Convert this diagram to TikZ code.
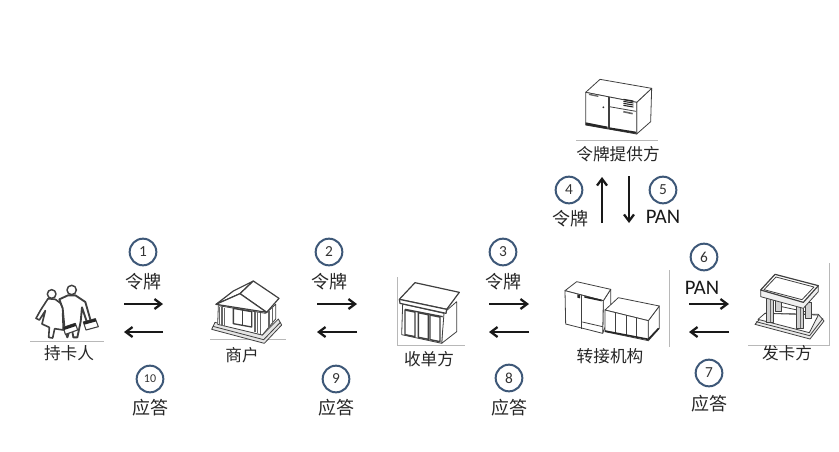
\documentclass[tikz,border=0pt]{standalone}
\usepackage{fontspec}
\setmainfont{Carlito}
\newfontfamily\cjk{Noto Sans CJK SC}
\usetikzlibrary{arrows.meta}
\definecolor{numblue}{RGB}{62,88,120}
\tikzset{
 zoomed/.style={shift={(#1)},x=0.25pt,y=-0.25pt},
 numc/.style={circle,draw=numblue,line width=1.5pt,minimum size=20pt,inner sep=0pt,font=\fontsize{11.5pt}{13pt}\selectfont,text=black!80},
 lbl/.style={inner sep=0pt,font=\cjk\fontsize{13.5pt}{15pt}\selectfont,text=black!85},
 actorname/.style={inner sep=0pt,font=\cjk\fontsize{12.5pt}{14pt}\selectfont,text=black!85},
 panlbl/.style={inner sep=0pt,font=\fontsize{15.5pt}{17pt}\selectfont,text=black!90},
 flow/.style={-{Straight Barb[length=5pt,width=7.5pt]},line width=1.7pt,black!90},
 hair/.style={line width=0.5pt,black!28},
 ic/.style={draw=black!75,line width=0.6pt,line join=round,fill=white},
 icl/.style={draw=black!75,line width=0.6pt,line join=round},
 darkf/.style={fill=black!85,draw=none},
}
\begin{document}
\begin{tikzpicture}[x=0.75pt,y=-0.75pt]
\useasboundingbox[fill=white] (0,0) rectangle (839,451);
% hairlines
\coordinate (h1a) at (30,341); \coordinate (h1b) at (104,341); \draw[hair] (h1a)--(h1b);
\coordinate (h2a) at (210,339); \coordinate (h2b) at (286,339); \draw[hair] (h2a)--(h2b);
\coordinate (h3a) at (397,277); \coordinate (h3b) at (397,345); \coordinate (h3c) at (465,345); \draw[hair] (h3a)--(h3b)--(h3c);
\coordinate (h4a) at (669,270); \coordinate (h4b) at (669,347); \draw[hair] (h4a)--(h4b);
\coordinate (h5a) at (829,263); \coordinate (h5b) at (829,345); \coordinate (h5c) at (748,345); \draw[hair] (h5a)--(h5b)--(h5c);
\coordinate (h6a) at (576,140); \coordinate (h6b) at (658,140); \draw[hair] (h6a)--(h6b);

% cardholders
\begin{scope}[zoomed={30,280}]
 \draw[ic,line width=1.1pt] (65,42) circle [radius=13];
 \draw[ic,line width=1.2pt] (54,56)--(32,90)--(18,115)--(28,120)--(46,92)--(36,132)--(58,142)--(56,172)--(68,174)--(74,146)--(100,150)--(98,100)--(115,135)--(122,130)--(92,70)--(76,58)--cycle;
 \draw[ic,line width=1.1pt] (125,30) circle [radius=14];
 \draw[ic,line width=1.4pt] (88,58)--(114,46)--(136,46)--(166,66)--(182,122)--(170,124)--(156,82)--(152,125)--(142,172)--(130,172)--(124,135)--(112,172)--(104,150)--(98,85)--cycle;
 \draw[ic,line width=0.8pt] (100,142)--(136,130)--(143,150)--(106,163)--cycle;
 \path[darkf] (100,142)--(136,130)--(138,138)--(102,150)--cycle;
 \draw[ic,line width=0.8pt] (160,126)--(196,116)--(205,140)--(168,150)--cycle;
 \path[darkf] (160,126)--(196,116)--(199,124)--(163,134)--cycle;
\end{scope}

% merchant
\begin{scope}[zoomed={205,275}]
 \draw[ic,fill=black!10] (20,163)--(178,205)--(230,150)--(220,132)--(172,180)--(30,142)--cycle;
 \draw[icl] (24,154)--(176,194)--(226,142);
 \draw[ic] (40,92)--(182,115)--(212,88)--(212,132)--(172,180)--(38,148)--cycle;
 \foreach \xa/\ya/\yb in {43/96/150,51/97/152,59/99/154,150/110/172,158/112/174,166/113/176,192/108/158,202/98/146}
  \draw[black!60,line width=1.1pt] (\xa,\ya)--(\xa,\yb);
 \draw[ic,line width=1pt] (85,100)--(140,110)--(140,156)--(85,146)--cycle;
 \draw[icl,line width=1pt] (112,105)--(112,151);
 \draw[ic,line width=0.9pt] (33,88)--(85,48)--(145,18)--(105,56)--cycle;
 \draw[ic,line width=0.9pt] (145,18)--(222,70)--(185,112)--(105,56)--cycle;
 \draw[ic,line width=0.9pt] (33,88)--(105,56)--(185,112)--cycle;
\end{scope}

% acquirer
\begin{scope}[zoomed={300,230}]
 \draw[ic] (430,250)--(470,215)--(470,305)--(425,340)--cycle;
 \draw[ic] (308,222)--(432,250)--(425,340)--(305,314)--cycle;
 \draw[ic,line width=0.9pt] (298,208)--(345,158)--(478,187)--(440,238)--cycle;
 \draw[ic,line width=0.9pt] (298,208)--(440,238)--(438,250)--(300,220)--cycle;
 \draw[icl,line width=1pt] (315,238)--(428,260);
 \foreach \a/\b in {315/345,355/385,390/420}{
  \pgfmathsetmacro{\ta}{240+(\a-315)*0.2}\pgfmathsetmacro{\tb}{240+(\b-315)*0.2}
  \draw[ic,line width=1.1pt] (\a,\ta)--(\b,\tb)--(\b,\tb+74)--(\a,\ta+74)--cycle;}
\end{scope}

% switch
\begin{scope}[zoomed={550,230}]
 \draw[ic] (160,212)--(182,178)--(182,250)--(158,310)--cycle;
 \draw[ic] (45,182)--(80,155)--(182,178)--(160,212)--cycle;
 \draw[ic] (45,182)--(160,212)--(158,310)--(47,282)--cycle;
 \draw[icl] (95,195)--(95,296);
 \draw[icl] (97,276)--(158,290);
 \path[darkf] (103,198)--(155,209)--(155,214)--(103,203)--cycle;
 \path[darkf] (82,193)--(90,195)--(90,205)--(82,203)--cycle;
 \draw[ic] (295,272)--(328,228)--(328,295)--(295,332)--cycle;
 \draw[ic] (165,240)--(205,203)--(328,228)--(295,272)--cycle;
 \draw[ic] (165,240)--(295,272)--(295,332)--(165,305)--cycle;
 \foreach \a in {197,228,260}{\pgfmathsetmacro{\t}{240+(\a-165)*0.246}
  \draw[icl] (\a,\t)--(\a,\t+60);}
 \draw[black!85,line width=1.2pt] (165,303)--(295,328);
 \draw[black!85,line width=1.2pt] (295,328)--(326,295);
\end{scope}

% issuer
\begin{scope}[zoomed={750,265}]
 \draw[ic,fill=black!8] (15,178)--(180,222)--(222,168)--(205,148)--(45,145)--cycle;
 \draw[icl] (18,170)--(179,212)--(219,160);
 \draw[ic] (24,163)--(45,145)--(205,150)--(178,203)--cycle;
 \foreach \xa/\ya/\yb in {85/105/140,175/112/160}{
  \draw[ic,fill=black!18] (\xa-10,\ya) rectangle (\xa+10,\yb);}
 \draw[icl] (95,125)--(165,140);
 \foreach \xa/\ya/\yb in {60/100/172,150/122/190}{
  \draw[ic,fill=black!18] (\xa-10,\ya) rectangle (\xa+10,\yb);
  \draw[black!60] (\xa,\ya)--(\xa,\yb);}
 \draw[ic,fill=black!6] (32,75)--(32,95)--(160,130)--(205,80)--(205,62)--cycle;
 \draw[ic,line width=0.9pt] (32,75)--(75,28)--(205,62)--(160,112)--cycle;
 \draw[icl] (42,74)--(78,36)--(192,66)--(156,104)--cycle;
\end{scope}

% provider
\begin{scope}[zoomed={540,70}]
 \draw[ic] (290,97)--(335,55)--(332,155)--(290,192)--cycle;
 \draw[ic] (137,67)--(180,28)--(335,55)--(290,97)--cycle;
 \draw[ic] (137,67)--(290,97)--(290,192)--(137,165)--cycle;
 \draw[icl] (204,80)--(204,178);
 \draw[icl] (207,81)--(207,178);
 \path[darkf] (137,157)--(203,170)--(203,177)--(137,165)--cycle;
 \path[darkf] (208,172)--(288,185)--(288,191)--(208,178)--cycle;
 \draw[black!60,line width=1pt] (147,73)--(175,79);
 \foreach \d in {0,6,12,18}\draw[black!85,line width=0.8pt] (250,88+\d)--(280,93+\d);
 \draw[black!60,line width=1.2pt] (250,125)--(278,131);
 \draw[icl] (208,110)--(288,124);
 \fill[black!80] (190,112) circle [radius=3];
\end{scope}

% names
\node[actorname] (n1) at (69,353) {持卡人};
\node[actorname] (n2) at (242,355) {商户};
\node[actorname] (n3) at (429,359) {收单方};
\node[actorname] (n4) at (610,356) {转接机构};
\node[actorname] (n5) at (787,353) {发卡方};
\node[actorname] (n6) at (618,154) {令牌提供方};

% numbers
\node[numc] (c1) at (143,252) {1};
\node[numc] (c2) at (329,252) {2};
\node[numc] (c3) at (503,252) {3};
\node[numc] (c4) at (569,190) {4};
\node[numc] (c5) at (663,190) {5};
\node[numc] (c6) at (704,257) {6};
\node[numc] (c7) at (709,373) {7};
\node[numc] (c8) at (509,378) {8};
\node[numc] (c9) at (336,379) {9};
\node[numc,font=\fontsize{9pt}{10pt}\selectfont] (c10) at (150,379) {10};

% labels
\node[lbl] (l1) at (143,282) {令牌};
\node[lbl] (l2) at (329,282) {令牌};
\node[lbl] (l3) at (503,282) {令牌};
\node[lbl] (l4) at (570,219) {令牌};
\node[panlbl] (l5) at (663,217) {PAN};
\node[panlbl] (l6) at (702,288) {PAN};
\node[lbl] (l7) at (709,404) {应答};
\node[lbl] (l8) at (509,408) {应答};
\node[lbl] (l9) at (336,408) {应答};
\node[lbl] (l10) at (150,408) {应答};

% arrows
\foreach \n/\xa/\xb in {a/124/163,b/317/357,c/489/529,d/689/729}{
 \coordinate (\n R1) at (\xa,304); \coordinate (\n R2) at (\xb,304);
 \coordinate (\n L1) at (\xb,332); \coordinate (\n L2) at (\xa,332);
 \draw[flow] (\n R1)--(\n R2);
 \draw[flow] (\n L1)--(\n L2);
}
\coordinate (u1) at (602,223); \coordinate (u2) at (602,177);
\coordinate (v1) at (629,176); \coordinate (v2) at (629,223);
\draw[flow] (u1)--(u2);
\draw[flow] (v1)--(v2);
\end{tikzpicture}
\end{document}
